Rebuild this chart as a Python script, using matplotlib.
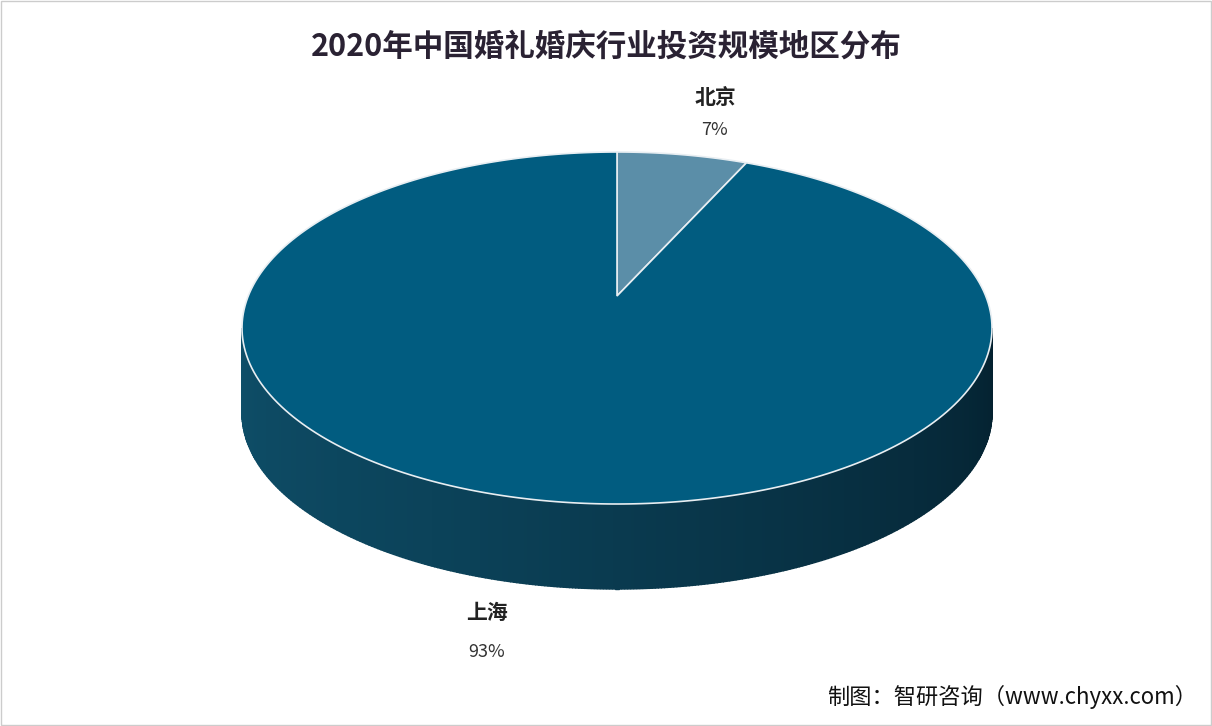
import numpy as np
import matplotlib
matplotlib.use("Agg")
import matplotlib.pyplot as plt
from matplotlib.patches import Polygon

plt.rcParams['font.family'] = ['Noto Sans CJK SC', 'DejaVu Sans']

title = "2020年中国婚礼婚庆行业投资规模地区分布"
labels = ["北京", "上海"]
values = [7, 93]
source = "制图：智研咨询（www.chyxx.com）"

W, H = 1212, 726
fig = plt.figure(figsize=(W/100, H/100), dpi=100)
ax = fig.add_axes([0, 0, 1, 1])
ax.set_xlim(0, W); ax.set_ylim(H, 0); ax.axis('off')

cx, cy, rx, ry, depth = 617, 328, 375, 176, 85
apex = (617, 296)

def pt(a):  # a: degrees clockwise from 12 o'clock, with perspective warp
    a = a - 6.5*np.sin(np.radians(2*a))
    t = np.radians(a)
    return cx + rx*np.sin(t), cy - ry*np.cos(t)

left = np.array([14, 78, 104]) / 255
right = np.array([4, 32, 46]) / 255
n = 300
angs = np.linspace(90, 270, n)
for i in range(n-1):
    a0, a1 = angs[i], angs[i+1]
    x0, y0 = pt(a0); x1, y1 = pt(a1)
    f = (a0-90)/180  # 0 at right, 1 at left
    c = tuple(right + (left-right)*f**0.8)
    ax.add_patch(Polygon([(x0, y0), (x1, y1), (x1, y1+depth), (x0, y0+depth)],
                         closed=True, fc=c, ec=c, lw=1.0))

colors = ["#5b8ea8", "#015c80"]
total = sum(values)
start = 0
label_pos = [((715, 97), (715, 130)), ((487, 612), (487, 652))]
for v, col, lab, (p1, p2) in zip(values, colors, labels, label_pos):
    end = start + 360*v/total
    aa = np.linspace(start, end, 300)
    pts = [apex] + [pt(a) for a in aa]
    ax.add_patch(Polygon(pts, closed=True, fc=col, ec="#e8eef2", lw=1.2, zorder=3))
    ax.text(*p1, lab, ha='center', va='center', fontsize=15, fontweight='bold', color='#222222')
    ax.text(*p2, f"{v}%", ha='center', va='center', fontsize=13, color='#333333')
    start = end

ax.text(606, 47, title, ha='center', va='center', fontsize=22, fontweight='bold', color='#2a2233')
ax.text(1197, 697, source, ha='right', va='center', fontsize=16, color='#111111')
ax.add_patch(plt.Rectangle((1, 1), W-2, H-2, fill=False, ec='#cccccc', lw=1))
fig.savefig("out.png", dpi=100)
